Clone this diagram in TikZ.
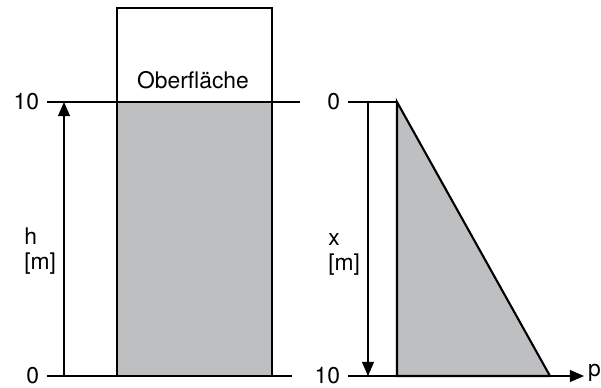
\documentclass[tikz,border=0pt]{standalone}
\usepackage{fontspec}
\setmainfont{TeX Gyre Heros}
\usetikzlibrary{arrows.meta,positioning}
\definecolor{fillgray}{RGB}{190,191,193}
\begin{document}
\begin{tikzpicture}[x=0.02cm,y=-0.02cm,every node/.style={font=\fontsize{13}{15}\selectfont}]
\useasboundingbox (0,0) rectangle (601,387);
% left: tank
\coordinate (tl) at (117,8);
\coordinate (sl) at (117,102);
\coordinate (sr) at (272,102);
\coordinate (bl) at (117,376);
\coordinate (br) at (272,376);
\coordinate (tr) at (272,8);
\coordinate (hA) at (47,102);
\coordinate (hB) at (300,102);
\coordinate (zA) at (47,376);
\coordinate (zB) at (292,376);
\coordinate (h0) at (64,376);
\coordinate (h1) at (64,102);
\fill[fillgray] (sl) rectangle (br);
\draw[line width=.6pt] (hA)--(hB);
\draw[line width=.6pt] (zA)--(zB);
\draw[line width=1.2pt] (sl)--(tl)--(tr)--(sr);
\draw[line width=1.2pt] (sl)--(bl)--(br)--(sr)--cycle;
\draw[line width=.6pt,-{Triangle[length=8pt,width=6.8pt]}] (h0)--(h1);
\node[anchor=base] (lbOF) at (193,88) {Oberfläche};
\node[anchor=east,inner sep=2pt] (lbten) at (43,102) {10};
\node[anchor=east,inner sep=2pt] (lbzero) at (43,376) {0};
\node[anchor=base west,align=left,inner sep=0pt] (lbh) at (24,269) {h\\[-1pt][m]};
% right: pressure
\coordinate (pt) at (397,102);
\coordinate (pb) at (397,376);
\coordinate (pe) at (550,376);
\coordinate (xA) at (348,102);
\coordinate (xB) at (348,376);
\coordinate (pp) at (584,376);
\coordinate (x0) at (368,102);
\coordinate (x1) at (368,376);
\fill[fillgray] (pt)--(pb)--(pe)--cycle;
\draw[line width=.6pt] (xA)--(pt);
\draw[line width=.6pt,-{Triangle[length=8pt,width=6.8pt]}] (xB)--(pp);
\draw[line width=1.2pt] (pe)--(pt)--(pb)--(pe);
\draw[line width=.6pt,-{Triangle[length=8pt,width=6.8pt]}] (x0)--(x1);
\node[anchor=east,inner sep=2pt] (rzero) at (344,102) {0};
\node[anchor=east,inner sep=2pt] (rten) at (344,376) {10};
\node[anchor=west,inner sep=1pt] (lbp) at (586,373) {p};
\node[anchor=base west,align=left,inner sep=0pt] (lbx) at (328,270) {x\\[-1pt][m]};
\end{tikzpicture}
\end{document}
